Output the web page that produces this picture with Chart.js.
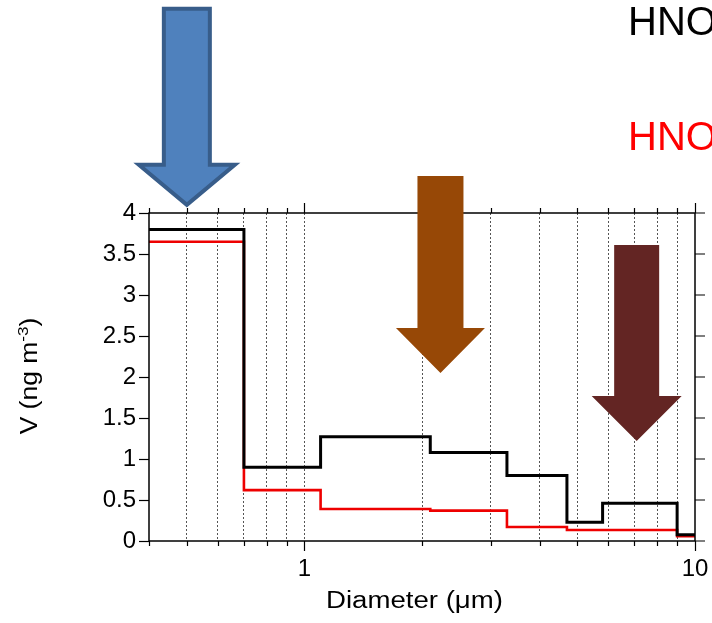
<!DOCTYPE html>
<html><head><meta charset="utf-8">
<script src="https://cdn.jsdelivr.net/npm/chart.js@4.4.1/dist/chart.umd.min.js"></script>
<style>html,body{margin:0;padding:0;background:#fff;overflow:hidden;}</style>
</head><body>
<canvas id="c" width="712" height="623"></canvas>
<script>
// ---- data ----
const binEdges = [0.4, 0.7, 1.1, 2.1, 3.3, 4.7, 5.8, 9.0, 10];
const totalV   = [3.80, 0.90, 1.27, 1.08, 0.80, 0.23, 0.46, 0.075];
const partV    = [3.65, 0.62, 0.39, 0.37, 0.17, 0.135, 0.135, 0.06];
const xGridValues  = [0.4, 0.5, 0.6, 0.7, 0.8, 0.9, 1, 2, 3, 4, 5, 6, 7, 8, 9, 10];
const xLabelValues = [1, 10];
const yTickValues  = [0, 0.5, 1, 1.5, 2, 2.5, 3, 3.5, 4];
const xTitle = 'Diameter (\u03bcm)';
const yTitleMain = 'V (ng m', yTitleSup = '-3', yTitleEnd = ')';
const legendTexts = ['HNO', 'HNO'];
// arrow annotations: tip anchored on data coordinates
const arrows = [
  {x: 0.5,  y: 4.10, length: 196, shaftW: 46, headW: 96, headH: 40, fill: '#4F81BD', stroke: '#385D8A', lw: 4},
  {x: 2.23, y: 2.05, length: 197, shaftW: 46, headW: 89, headH: 45, fill: '#974806', stroke: null, lw: 0},
  {x: 7.09, y: 1.22, length: 196, shaftW: 45, headW: 90, headH: 45, fill: '#632523', stroke: null, lw: 0}
];

function steps(vals){
  return binEdges.map((e,i)=>({x:e, y: vals[Math.min(i, vals.length-1)]}));
}

const FONT = "'Liberation Sans', Arial, sans-serif";

const deco = {
  id: 'deco',
  afterDatasetsDraw(chart){
    const {ctx, chartArea:a, scales:{x, y}} = chart;
    ctx.save();
    ctx.strokeStyle = '#000';
    ctx.lineWidth = 1.5;
    ctx.strokeRect(a.left, a.top, a.right - a.left, a.bottom - a.top);
    ctx.lineWidth = 1.2;
    ctx.beginPath();
    xGridValues.forEach(v => {
      const px = Math.round(x.getPixelForValue(v)) + 0.5;
      const len = xLabelValues.includes(v) ? 10 : 5;
      ctx.moveTo(px, a.bottom); ctx.lineTo(px, a.bottom + len);
      ctx.moveTo(px, a.top); ctx.lineTo(px, a.top - len);
    });
    yTickValues.forEach(v => {
      const py = y.getPixelForValue(v);
      ctx.moveTo(a.right, py); ctx.lineTo(a.right + 10, py);
    });
    ctx.stroke();
    ctx.restore();
  },
  afterDraw(chart){
    const {ctx, chartArea:a, scales:{x, y}} = chart;
    ctx.save();
    ctx.fillStyle = '#000';
    // x title
    ctx.save();
    ctx.translate(414.5, 608);
    ctx.scale(1.2, 1);
    ctx.font = '23px ' + FONT;
    ctx.textAlign = 'center';
    ctx.textBaseline = 'alphabetic';
    ctx.fillText(xTitle, 0, 0);
    ctx.restore();
    // y title (rotated, with superscript)
    ctx.save();
    ctx.translate(37, 376);
    ctx.rotate(-Math.PI/2);
    ctx.scale(1.15, 1);
    ctx.textAlign = 'left';
    ctx.textBaseline = 'alphabetic';
    ctx.font = '23px ' + FONT;
    const w1 = ctx.measureText(yTitleMain).width;
    const w3 = ctx.measureText(yTitleEnd).width;
    ctx.font = '15px ' + FONT;
    const w2 = ctx.measureText(yTitleSup).width;
    let sx = -(w1 + w2 + w3) / 2;
    ctx.font = '23px ' + FONT;
    ctx.fillText(yTitleMain, sx, 0); sx += w1;
    ctx.font = '15px ' + FONT;
    ctx.fillText(yTitleSup, sx, -9); sx += w2;
    ctx.font = '23px ' + FONT;
    ctx.fillText(yTitleEnd, sx, 0);
    ctx.restore();
    // legend-like texts at top right
    ctx.font = '40px ' + FONT;
    ctx.textAlign = 'left';
    ctx.textBaseline = 'alphabetic';
    ctx.fillStyle = '#000';
    ctx.fillText(legendTexts[0], 628, 35);
    ctx.fillStyle = '#FF0000';
    ctx.fillText(legendTexts[1], 628, 150);
    // arrows
    arrows.forEach(ar => {
      const tx = x.getPixelForValue(ar.x), ty = y.getPixelForValue(ar.y);
      const top = ty - ar.length, sb = ty - ar.headH;
      ctx.beginPath();
      ctx.moveTo(tx - ar.shaftW/2, top);
      ctx.lineTo(tx + ar.shaftW/2, top);
      ctx.lineTo(tx + ar.shaftW/2, sb);
      ctx.lineTo(tx + ar.headW/2, sb);
      ctx.lineTo(tx, ty);
      ctx.lineTo(tx - ar.headW/2, sb);
      ctx.lineTo(tx - ar.shaftW/2, sb);
      ctx.closePath();
      ctx.fillStyle = ar.fill;
      ctx.fill();
      if (ar.stroke) {
        ctx.lineWidth = ar.lw;
        ctx.lineJoin = 'miter';
        ctx.strokeStyle = ar.stroke;
        ctx.stroke();
      }
    });
    ctx.restore();
  }
};

new Chart(document.getElementById('c'), {
  type: 'line',
  data: {
    datasets: [
      {label: 'total', data: steps(totalV), stepped: 'before', borderColor: '#000', borderWidth: 3, pointRadius: 0, fill: false},
      {label: 'part', data: steps(partV), stepped: 'before', borderColor: '#ee0000', borderWidth: 2.6, pointRadius: 0, fill: false}
    ]
  },
  options: {
    responsive: false,
    animation: false,
    devicePixelRatio: 1,
    layout: {padding: {top: 213, right: 17, left: 0, bottom: 0}},
    plugins: {legend: {display: false}, tooltip: {enabled: false}},
    scales: {
      x: {
        type: 'logarithmic',
        min: 0.4, max: 10,
        afterBuildTicks: s => { s.ticks = xGridValues.map(v => ({value: v, major: xLabelValues.includes(v)})); },
        afterFit: s => { s.height = 82; s.paddingLeft = 0; s.paddingRight = 0; },
        grid: {
          drawTicks: false,
          lineWidth: 1,
          color: c => (c.tick && (c.tick.value === 0.4 || c.tick.value === 10)) ? 'rgba(0,0,0,0)' : '#555'
        },
        border: {display: false, dash: [2, 2]},
        ticks: {
          autoSkip: false, maxRotation: 0, padding: 14,
          color: '#000', font: {family: FONT, size: 24},
          callback: v => xLabelValues.includes(v) ? String(v) : ''
        }
      },
      y: {
        min: 0, max: 4,
        afterBuildTicks: s => { s.ticks = yTickValues.map(v => ({value: v})); },
        afterFit: s => { s.width = 149; s.paddingTop = 0; s.paddingBottom = 0; },
        grid: {drawOnChartArea: false, drawTicks: true, tickLength: 10, tickColor: '#000', tickWidth: 1.2},
        border: {display: false},
        ticks: {padding: 3, color: '#000', font: {family: FONT, size: 24}, callback: v => String(v)}
      }
    }
  },
  plugins: [deco]
});
</script>
</body></html>
